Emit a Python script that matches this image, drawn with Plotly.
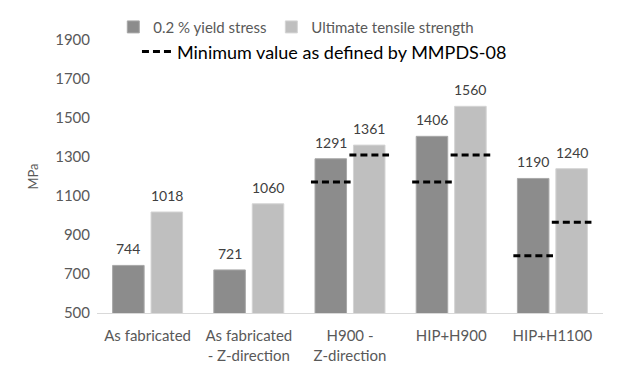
import plotly.graph_objects as go

categories = ["As fabricated", "As fabricated<br>- Z-direction", "H900 -<br>Z-direction", "HIP+H900", "HIP+H1100"]
yield_stress = [744, 721, 1291, 1406, 1190]
uts = [1018, 1060, 1361, 1560, 1240]
min_yield = [None, None, 1172, 1172, 793]
min_uts = [None, None, 1310, 1310, 965]
y_ticks = [500, 700, 900, 1100, 1300, 1500, 1700, 1900]

FONT = "Lato, Calibri, Carlito, sans-serif"
BARGAP = 0.24
GROUPGAP = 0.18
xs = list(range(len(categories)))
slot = (1 - BARGAP) / 2
bar_w = slot * (1 - GROUPGAP)
centers = [-slot / 2, slot / 2]

fig = go.Figure()
fig.add_trace(go.Bar(
    x=xs, y=yield_stress, name="0.2 % yield stress",
    marker=dict(color="#8c8c8c", line=dict(color="#a8a8a8", width=1)),
    legend="legend",
))
fig.add_trace(go.Bar(
    x=xs, y=uts, name="Ultimate tensile strength",
    marker=dict(color="#bfbfbf", line=dict(color="#d4d4d4", width=1)),
    legend="legend3",
))

# dashed minimum lines
half = bar_w / 2 + 0.04
lx, ly = [], []
for series, c in ((min_yield, centers[0]), (min_uts, centers[1])):
    for i, v in enumerate(series):
        if v is None:
            continue
        lx += [i + c - half, i + c + half, None]
        ly += [v, v, None]
fig.add_trace(go.Scatter(
    x=lx, y=ly, mode="lines", name="Minimum value as defined by MMPDS-08",
    line=dict(color="black", width=3, dash="7px,4px"),
    legend="legend2", hoverinfo="skip",
))

# value labels
for series, c in ((yield_stress, centers[0]), (uts, centers[1])):
    for i, v in enumerate(series):
        fig.add_annotation(
            x=i + c, y=v, text=str(v), showarrow=False,
            yanchor="bottom", yshift=6,
            font=dict(family=FONT, size=14, color="#404040"),
        )

leg_common = dict(orientation="h", xref="container", yref="container",
                  xanchor="left", yanchor="top", itemwidth=30,
                  bgcolor="rgba(0,0,0,0)")
fig.update_layout(
    width=623, height=378,
    margin=dict(l=89, r=28, t=32, b=73, autoexpand=False),
    paper_bgcolor="white", plot_bgcolor="white",
    barmode="group", bargap=BARGAP, bargroupgap=GROUPGAP,
    font=dict(family=FONT, color="#595959"),
    showlegend=True,
    legend=dict(x=0.169, y=0.993, font=dict(family=FONT, size=15, color="#595959"), **leg_common),
    legend3=dict(x=0.4227, y=0.993, font=dict(family=FONT, size=15, color="#595959"), **leg_common),
    legend2=dict(x=0.207, y=0.933, font=dict(family=FONT, size=18, color="black"), **leg_common),
)
fig.update_xaxes(
    range=[-0.5, len(categories) - 0.5],
    tickvals=xs, ticktext=categories,
    showgrid=False, zeroline=False,
    showline=True, linecolor="#d9d9d9", linewidth=1,
    ticks="", ticklabelstandoff=9,
    tickfont=dict(family=FONT, size=15, color="#595959"),
)
fig.update_yaxes(
    range=[500, 1900], tickvals=y_ticks,
    showgrid=False, zeroline=False, showline=False, ticks="",
    ticklabelstandoff=6,
    tickfont=dict(family=FONT, size=15, color="#595959"),
    title=dict(text="MPa", font=dict(family=FONT, size=13, color="#595959"), standoff=13),
)
fig.write_html("out.html")
